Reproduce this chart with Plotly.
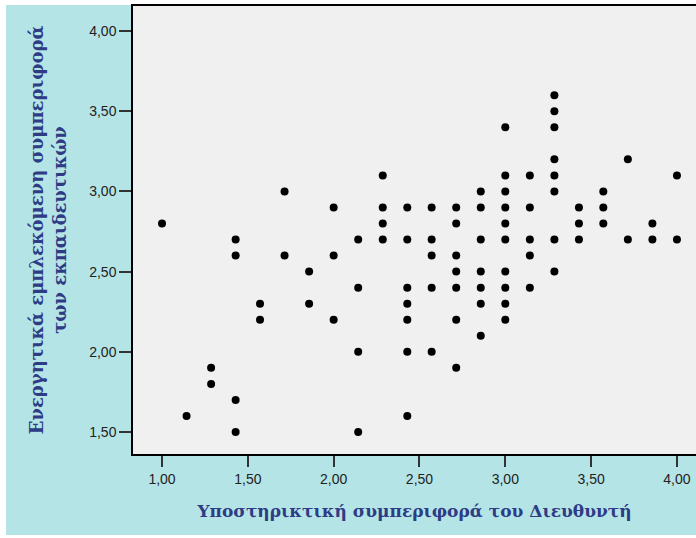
import plotly.graph_objects as go

# Support behaviour of principal (x) and teachers' engaged behaviour (y)
x_vals = [
    1.000,
    1.143,
    1.286, 1.286,
    1.429, 1.429, 1.429, 1.429,
    1.571, 1.571,
    1.714, 1.714,
    1.857, 1.857,
    2.000, 2.000, 2.000,
    2.143, 2.143, 2.143, 2.143,
    2.286, 2.286, 2.286, 2.286,
    2.429, 2.429, 2.429, 2.429, 2.429, 2.429, 2.429,
    2.571, 2.571, 2.571, 2.571, 2.571,
    2.714, 2.714, 2.714, 2.714, 2.714, 2.714, 2.714,
    2.857, 2.857, 2.857, 2.857, 2.857, 2.857, 2.857,
    3.000, 3.000, 3.000, 3.000, 3.000, 3.000, 3.000, 3.000, 3.000, 3.000,
    3.143, 3.143, 3.143, 3.143, 3.143,
    3.286, 3.286, 3.286, 3.286, 3.286, 3.286, 3.286, 3.286,
    3.429, 3.429, 3.429,
    3.571, 3.571, 3.571,
    3.714, 3.714,
    3.857, 3.857,
    4.000, 4.000,
]
y_vals = [
    2.8,
    1.6,
    1.9, 1.8,
    2.7, 2.6, 1.7, 1.5,
    2.3, 2.2,
    3.0, 2.6,
    2.5, 2.3,
    2.9, 2.6, 2.2,
    2.7, 2.4, 2.0, 1.5,
    3.1, 2.9, 2.8, 2.7,
    2.9, 2.7, 2.4, 2.3, 2.2, 2.0, 1.6,
    2.9, 2.7, 2.6, 2.4, 2.0,
    2.9, 2.8, 2.6, 2.5, 2.4, 2.2, 1.9,
    3.0, 2.9, 2.7, 2.5, 2.4, 2.3, 2.1,
    3.4, 3.1, 3.0, 2.9, 2.8, 2.7, 2.5, 2.4, 2.3, 2.2,
    3.1, 2.9, 2.7, 2.6, 2.4,
    3.6, 3.5, 3.4, 3.2, 3.1, 3.0, 2.7, 2.5,
    2.9, 2.8, 2.7,
    3.0, 2.9, 2.8,
    3.2, 2.7,
    2.8, 2.7,
    3.1, 2.7,
]

tick_vals = [1.0, 1.5, 2.0, 2.5, 3.0, 3.5, 4.0]
tick_text = ["1,00", "1,50", "2,00", "2,50", "3,00", "3,50", "4,00"]

x_title = "Υποστηρικτική συμπεριφορά του Διευθυντή"
y_title = "Ενεργητικά εμπλεκόμενη συμπεριφορά<br>των εκπαιδευτικών"

CYAN = "#b4e4e6"
TITLE_COLOR = "#2e3b85"
TICK_FONT = dict(family="Liberation Sans, Arial", size=14, color="#222")

fig = go.Figure(
    go.Scatter(
        x=x_vals, y=y_vals, mode="markers",
        marker=dict(color="black", size=8, symbol="circle"),
        hoverinfo="x+y",
    )
)

W, H = 696, 538
L, R, T, B = 133, 0, 6, 84
pw, ph = W - L - R, H - T - B

fig.update_layout(
    width=W, height=H,
    margin=dict(l=L, r=R, t=T, b=B, pad=0),
    paper_bgcolor=CYAN,
    plot_bgcolor="#f0f0f0",
    showlegend=False,
    xaxis=dict(
        range=[0.831, 4.111], tickvals=tick_vals, ticktext=tick_text,
        showgrid=False, zeroline=False,
        showline=True, linecolor="black", linewidth=1.5, mirror=True,
        ticks="outside", ticklen=11, tickwidth=1.5, tickcolor="#333",
        tickfont=TICK_FONT,
        title=dict(text=x_title, standoff=20,
                   font=dict(family="DejaVu Serif", size=17, color=TITLE_COLOR, weight="bold")),
    ),
    yaxis=dict(
        range=[1.363, 4.156], tickvals=tick_vals, ticktext=tick_text,
        showgrid=False, zeroline=False,
        showline=True, linecolor="black", linewidth=1.5, mirror=False,
        ticks="outside", ticklen=12, tickwidth=1.5, tickcolor="#333",
        tickfont=TICK_FONT,
        title=dict(text=y_title, standoff=18,
                   font=dict(family="DejaVu Serif", size=18, color=TITLE_COLOR, weight="bold")),
    ),
    shapes=[
        # thin white frame around the cyan panel (left, top, bottom)
        dict(type="rect", xref="paper", yref="paper", layer="below",
             x0=-L / pw - 0.01, x1=(6 - L) / pw, y0=-B / ph - 0.01, y1=1 + T / ph + 0.01,
             fillcolor="white", line=dict(width=0)),
        dict(type="rect", xref="paper", yref="paper", layer="below",
             x0=-L / pw - 0.01, x1=1.01, y0=1 + 1 / ph, y1=1 + T / ph + 0.01,
             fillcolor="white", line=dict(width=0)),
        dict(type="rect", xref="paper", yref="paper", layer="below",
             x0=-L / pw - 0.01, x1=1.01, y0=-B / ph - 0.01, y1=-(B - 3) / ph,
             fillcolor="white", line=dict(width=0)),
    ],
)

fig.write_html("out.html")
